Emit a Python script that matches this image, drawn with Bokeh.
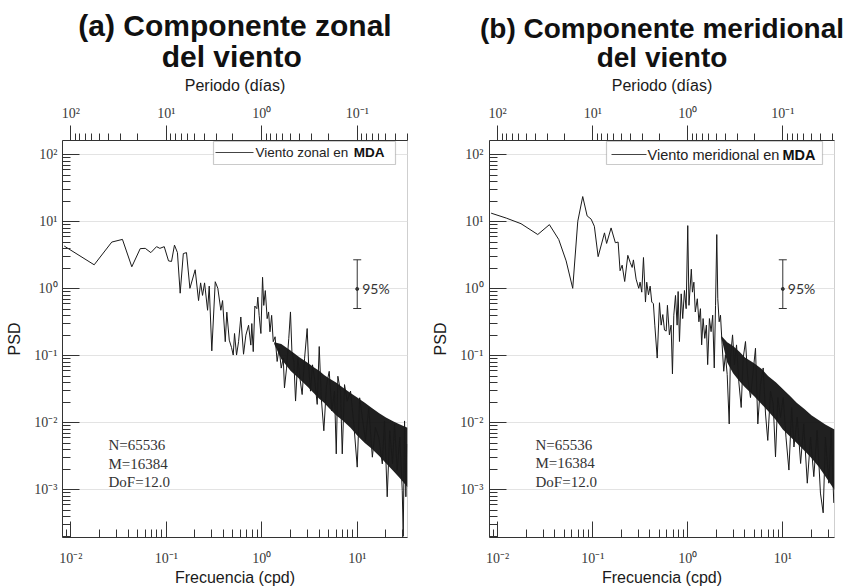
from bokeh.plotting import figure
from bokeh.models import (Range1d, LogScale, LogAxis, FixedTicker, CustomJSTickFormatter,
                          Label, BoxAnnotation, Whisker, ColumnDataSource, TeeHead)
from bokeh.layouts import row
from bokeh.embed import file_html
from bokeh.resources import INLINE

# ---------------- data ----------------
# (a) zonal wind PSD
freq_zonal = [0.00855, 0.0176, 0.0269, 0.0348, 0.0436, 0.0534, 0.0603, 0.069, 0.0792, 0.0858,
              0.0953, 0.1057, 0.1136, 0.122, 0.131, 0.140, 0.151, 0.163, 0.177, 0.201,
              0.218, 0.229, 0.24, 0.252, 0.271, 0.282, 0.30, 0.326, 0.347, 0.373,
              0.389, 0.415, 0.431, 0.457, 0.483, 0.503, 0.519, 0.545, 0.572, 0.604,
              0.645, 0.682, 0.728, 0.769, 0.787, 0.815, 0.847, 0.889, 0.91, 0.94,
              0.98, 1.02, 1.05, 1.09, 1.14, 1.18, 1.22, 1.27, 1.32, 1.38,
              1.45, 1.52, 1.60, 1.68, 1.73, 1.82, 1.92, 2.0, 2.07, 2.17,
              2.26, 2.39, 2.51, 2.65, 2.81, 2.99, 3.11, 3.24, 3.40, 3.57,
              3.81, 4.0, 4.2, 4.47, 4.77, 5.09, 5.42, 5.78, 6.03, 6.27,
              6.68, 6.97, 7.36, 7.85, 8.51, 9.21, 10.0, 10.6, 11.3, 12.2,
              13.2, 14.4, 15.5, 16.8, 18.3, 19.3, 20.6, 21.9, 23.4, 24.6,
              26.2, 27.9, 29.6, 30.3, 31.3, 32.3, 33.0]
psd_zonal = [4.36, 2.29, 5.0, 5.48, 2.14, 3.99, 4.03, 3.48, 4.27, 4.03,
             4.27, 2.62, 2.57, 4.5, 3.49, 0.863, 3.37, 3.48, 1.02, 1.93,
             0.67, 1.23, 0.80, 1.23, 0.48, 1.1, 0.119, 1.28, 1.02, 0.48,
             0.67, 0.163, 0.45, 0.172, 0.133, 0.103, 0.216, 0.103, 0.163, 0.381,
             0.106, 0.204, 0.287, 0.145, 0.304, 0.116, 0.555, 0.507, 0.754, 0.40,
             0.216, 1.49, 0.567, 0.944, 0.36, 0.453, 0.229, 0.403, 0.163, 0.193,
             0.0826, 0.13, 0.0658, 0.0925, 0.0333, 0.0658, 0.183, 0.453, 0.116, 0.0826,
             0.0212, 0.0925, 0.0469, 0.0265, 0.0925, 0.256, 0.0658, 0.0298, 0.0736, 0.0469,
             0.0189, 0.138, 0.0237, 0.00764, 0.0373, 0.0589, 0.0151, 0.0298, 0.00345, 0.0497,
             0.0298, 0.00345, 0.0373, 0.0212, 0.0298, 0.00957, 0.00219, 0.0237, 0.012, 0.00544,
             0.0169, 0.00308, 0.00855, 0.00608, 0.00245, 0.0107, 0.00079, 0.00764, 0.00245, 0.00957,
             0.00196, 0.00608, 0.00099, 0.000203, 0.0107, 0.00079, 0.00484]
# dense high-frequency core of the zonal spectrum (envelope)
band_f_zonal = [1.35, 1.6, 2.0, 2.5, 3.0, 3.5, 4.0, 4.5, 5.0, 6.0, 7.0, 8.5, 10.0, 12.0, 14.0, 17.0, 20.0, 24.0, 28.0, 33.6]
band_hi_zonal = [0.16, 0.15, 0.12, 0.095, 0.08, 0.068, 0.06, 0.052, 0.047, 0.04, 0.034, 0.028, 0.024, 0.02, 0.017, 0.014, 0.012, 0.0105, 0.0095, 0.0085]
band_lo_zonal = [0.15, 0.09, 0.06, 0.045, 0.035, 0.028, 0.023, 0.02, 0.017, 0.013, 0.011, 0.0085, 0.0065, 0.005, 0.0042, 0.0032, 0.0025, 0.0019, 0.0015, 0.0011]

# (b) meridional wind PSD
freq_merid = [0.00853, 0.0123, 0.0176, 0.0264, 0.035, 0.0439, 0.0525, 0.0616, 0.0696, 0.0785,
              0.0873, 0.0962, 0.104, 0.114, 0.133, 0.14, 0.156, 0.173, 0.185, 0.194,
              0.204, 0.217, 0.234, 0.248, 0.26, 0.268, 0.286, 0.305, 0.315, 0.328,
              0.342, 0.359, 0.37, 0.386, 0.402, 0.418, 0.435, 0.45, 0.477, 0.504,
              0.525, 0.546, 0.569, 0.593, 0.611, 0.641, 0.668, 0.69, 0.713, 0.743,
              0.773, 0.792, 0.818, 0.853, 0.885, 0.923, 0.962, 1.0, 1.03, 1.09,
              1.12, 1.16, 1.20, 1.26, 1.31, 1.36, 1.40, 1.45, 1.51, 1.57,
              1.62, 1.69, 1.76, 1.83, 1.90, 1.96, 2.02, 2.07, 2.14, 2.21,
              2.30, 2.39, 2.49, 2.60, 2.73, 2.81, 2.96, 3.10, 3.26, 3.44,
              3.65, 3.83, 4.05, 4.28, 4.57, 4.88, 5.16, 5.46, 5.82, 6.22,
              6.58, 6.95, 7.43, 7.93, 8.38, 8.86, 9.46, 10.1, 10.8, 11.6,
              12.4, 13.1, 14.2, 15.4, 16.6, 18.1, 19.6, 21.2, 23.0, 24.9,
              26.6, 28.1, 30.5, 32.3, 34.4]
psd_merid = [13.5, 11.4, 9.4, 6.48, 9.1, 5.46, 2.62, 1.02, 10.2, 23.9,
             12.3, 11.0, 8.61, 3.03, 6.86, 4.77, 8.13, 4.89, 5.0, 1.87,
             2.26, 1.29, 3.17, 2.48, 2.09, 2.71, 1.40, 1.02, 1.26, 0.894,
             2.94, 0.637, 1.26, 0.816, 1.1, 0.637, 0.601, 0.288, 0.0929, 0.622,
             0.288, 0.414, 0.243, 0.235, 0.569, 0.206, 0.288, 0.054, 0.405, 0.798,
             0.288, 0.914, 0.164, 0.844, 0.361, 0.947, 0.507, 8.8, 0.569, 1.97,
             0.894, 1.26, 0.453, 0.713, 0.323, 0.507, 0.146, 0.361, 0.183, 0.288,
             0.0741, 0.361, 0.23, 0.405, 0.0661, 0.569, 6.47, 0.713, 0.323, 0.405,
             0.146, 0.059, 0.104, 0.0528, 0.00966, 0.0929, 0.206, 0.0741, 0.146, 0.042,
             0.017, 0.0929, 0.164, 0.0471, 0.0239, 0.059, 0.130, 0.00966, 0.0376, 0.0661,
             0.0136, 0.00548, 0.0299, 0.0191, 0.00311, 0.0239, 0.0121, 0.0239, 0.00613, 0.00198,
             0.017, 0.00437, 0.0121, 0.00248, 0.00966, 0.00126, 0.00613, 0.00158, 0.00769, 0.000897,
             0.000455, 0.00613, 0.00126, 0.00769, 0.00064]
band_f_merid = [2.25, 2.6, 3.0, 3.5, 4.0, 5.0, 6.0, 7.0, 8.5, 10.0, 12.0, 14.0, 17.0, 20.0, 24.0, 28.0, 35.0]
band_hi_merid = [0.2, 0.16, 0.14, 0.115, 0.095, 0.078, 0.064, 0.05, 0.04, 0.032, 0.025, 0.02, 0.016, 0.013, 0.011, 0.0095, 0.008]
band_lo_merid = [0.19, 0.08, 0.055, 0.042, 0.034, 0.025, 0.019, 0.015, 0.011, 0.008, 0.0062, 0.005, 0.0038, 0.003, 0.0022, 0.0016, 0.001]

# 95% confidence interval (chi-square, DoF=12) drawn at 10 cpd around PSD=1
ci_x = [10.0]
ci_mid = [1.0]
ci_lo = [0.51]
ci_hi = [2.72]

stats_text = ["N=65536", "M=16384", "DoF=12.0"]

title_zonal = ["(a) Componente zonal", "del viento"]
title_merid = ["(b) Componente meridional", "del viento"]

freq_major = [0.01, 0.1, 1.0, 10.0]
period_major = [100.0, 10.0, 1.0, 0.1]
psd_major = [1e-3, 1e-2, 1e-1, 1e0, 1e1, 1e2]
minor_decades = list(range(-4, 3))
minor_all = [m * 10.0 ** e for e in minor_decades for m in range(2, 10)]

SANS = "Liberation Sans"
SERIF = "Liberation Serif"
AX = "#333333"
NBSP = "\u00a0"

sup_code = """
const e = Math.round(Math.log10(tick));
const m = {"-": "\\u207b", "0": "\\u2070", "1": "\\u00b9", "2": "\\u00b2", "3": "\\u00b3", "4": "\\u2074"};
return "10" + String(e).split("").map(c => m[c]).join("");
"""


def style_axis(ax):
    ax.axis_line_color = AX
    ax.major_tick_line_color = AX
    ax.minor_tick_line_color = AX
    ax.major_label_text_font = SERIF
    ax.major_label_text_font_size = "14px"
    ax.major_label_text_color = "#3a3a3a"
    ax.axis_label_text_font = SANS
    ax.axis_label_text_font_size = "16px"
    ax.axis_label_text_font_style = "normal"
    ax.axis_label_text_color = "#1a1a1a"
    ax.formatter = CustomJSTickFormatter(code=sup_code)


def make_panel(freq, psd, bf, blo, bhi, xr, yr, borders, title, tsize, tpad, legend,
               stats_x, stats_y, ylab_standoff):
    left, right, top, bottom = borders
    p = figure(width=423, height=588, x_axis_type="log", y_axis_type="log",
               x_range=Range1d(*xr), y_range=Range1d(*yr),
               output_backend="svg", toolbar_location=None,
               min_border_left=left, min_border_right=right,
               min_border_top=top, min_border_bottom=bottom)
    fh = 588 - top - bottom
    p.background_fill_color = "white"
    p.border_fill_color = "white"
    p.outline_line_color = "#cfcfcf"
    p.xgrid.visible = False
    p.ygrid.ticker = FixedTicker(ticks=psd_major)
    p.ygrid.grid_line_color = "#e3e3e3"

    # two-line bold title (second line centred with no-break spaces)
    p.title.text = title[0] + "\n" + NBSP * tpad + title[1]
    p.title.align = "center"
    p.title.text_font = SANS
    p.title.text_font_size = tsize
    p.title.text_font_style = "bold"
    p.title.text_color = "#111111"
    p.title.text_line_height = 0.95
    p.title.standoff = 0

    # bottom axis
    xa = p.xaxis[0]
    style_axis(xa)
    xa.ticker = FixedTicker(ticks=freq_major, minor_ticks=minor_all)
    xa.axis_label = "Frecuencia (cpd)"
    xa.major_tick_in, xa.major_tick_out = 16, 0
    xa.minor_tick_in, xa.minor_tick_out = 8, 0
    xa.major_label_standoff = 13
    xa.axis_label_standoff = 0

    # left axis
    ya = p.yaxis[0]
    style_axis(ya)
    ya.ticker = FixedTicker(ticks=psd_major, minor_ticks=minor_all)
    ya.axis_label = "PSD"
    ya.major_tick_in, ya.major_tick_out = 17, 0
    ya.minor_tick_in, ya.minor_tick_out = 8, 0
    ya.major_label_standoff = ylab_standoff
    ya.axis_label_standoff = 8

    # top period axis
    p.extra_x_ranges = {"period": Range1d(1.0 / xr[0], 1.0 / xr[1])}
    p.extra_x_scales = {"period": LogScale()}
    ta = LogAxis(x_range_name="period", axis_label="Periodo (días)")
    style_axis(ta)
    ta.ticker = FixedTicker(ticks=period_major, minor_ticks=minor_all)
    ta.major_tick_in, ta.major_tick_out = 0, 15
    ta.minor_tick_in, ta.minor_tick_out = 0, 7
    ta.major_label_standoff = 5
    ta.axis_label_standoff = 9
    p.add_layout(ta, "above")

    # spectrum
    p.varea(x=bf, y1=blo, y2=bhi, fill_color="#0d0d0d", fill_alpha=0.92)
    p.line(freq, psd, line_color="#1a1a1a", line_width=1)

    # 95% interval
    src = ColumnDataSource(dict(x=ci_x, y=ci_mid, lo=ci_lo, hi=ci_hi))
    p.add_layout(Whisker(source=src, base="x", lower="lo", upper="hi", dimension="height",
                         line_color=AX, line_width=1,
                         upper_head=TeeHead(size=8, line_color=AX, line_width=1),
                         lower_head=TeeHead(size=8, line_color=AX, line_width=1)))
    p.scatter(x="x", y="y", source=src, size=3, color=AX)
    p.add_layout(Label(x=ci_x[0], y=ci_mid[0], x_offset=5, text="95%", text_baseline="middle",
                       text_font="Lato", text_font_size="14px", text_color="#333333"))

    # stats text
    for t, yy in zip(stats_text, stats_y):
        p.add_layout(Label(x=stats_x, y=yy, x_units="screen", y_units="screen", text=t,
                           text_baseline="middle", text_font=SERIF, text_font_size="15px",
                           text_color="#333333"))

    # legend (drawn by hand to allow bold "MDA")
    (bl, br, bt, bb, l0, l1, ly, tx, mx, lab, lfs) = legend
    p.add_layout(BoxAnnotation(left=bl, right=br, top=fh - bt, bottom=fh - bb,
                               left_units="screen", right_units="screen",
                               top_units="screen", bottom_units="screen",
                               fill_color="white", fill_alpha=1.0,
                               line_color="#505050", line_width=1.2))
    p.add_layout(BoxAnnotation(left=l0, right=l1, top=fh - ly + 0.6, bottom=fh - ly - 0.6,
                               left_units="screen", right_units="screen",
                               top_units="screen", bottom_units="screen",
                               fill_color="#444444", fill_alpha=1.0, line_alpha=0))
    p.add_layout(Label(x=tx, y=fh - ly, x_units="screen", y_units="screen", text=lab,
                       text_baseline="middle", text_font=SANS, text_font_size=lfs,
                       text_color="#222222"))
    p.add_layout(Label(x=mx, y=fh - ly, x_units="screen", y_units="screen", text="MDA",
                       text_align="right", text_baseline="middle", text_font=SANS,
                       text_font_style="bold", text_font_size=lfs, text_color="#111111"))
    return p


p1 = make_panel(freq_zonal, psd_zonal, band_f_zonal, band_lo_zonal, band_hi_zonal,
                (0.0082, 33.6), (1.95e-4, 164.0), (62, 16, 140, 47),
                title_zonal, "30px", 10,
                (151, 333, 5, 28, 153, 191, 16, 193, 322, "Viento zonal en", "13.5px"),
                46, [93, 74, 56], 5)
p2 = make_panel(freq_merid, psd_merid, band_f_merid, band_lo_merid, band_hi_merid,
                (0.0082, 35.0), (1.95e-4, 164.0), (66, 12, 138, 50),
                title_merid, "28px", 15,
                (117, 333, 4, 27, 122, 157, 17, 158, 326, "Viento meridional en", "14.5px"),
                46, [93, 75, 56], 6)

layout = row(p1, p2)
open("out.html", "w").write(file_html(layout, INLINE))
